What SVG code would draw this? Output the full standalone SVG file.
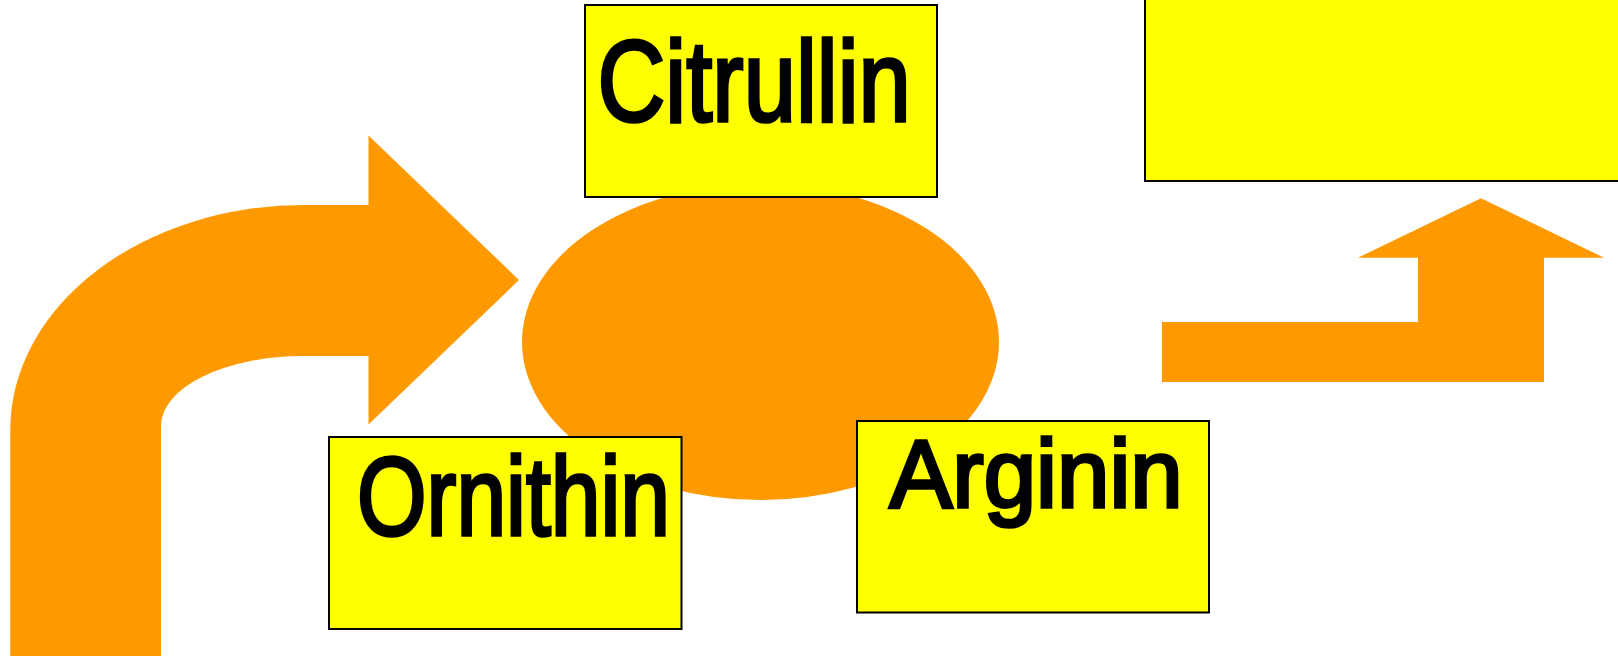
<svg xmlns="http://www.w3.org/2000/svg" width="1618" height="665" viewBox="0 0 1618 665">
<style>
.box{fill:#FFFF00;stroke:#000;stroke-width:2}
.arrow{fill:#FF9900;stroke:none}
.lbl{font-family:"Liberation Sans",Arial,sans-serif;fill:#000;stroke:#000;stroke-width:3.5;stroke-linejoin:miter}
</style>
<rect width="1618" height="665" fill="#fff"/>
<g id="connectors">
<path class="arrow" d="M10.3 656 L10.3 430 A293.7 225 0 0 1 304 205 L368.5 205 L368.5 135.5 L519 280 L368.5 424.5 L368.5 356 L304 356 A143 70 0 0 0 161 426 L161 656 Z"/>
<polygon class="arrow" points="1162,322 1418,322 1418,257.7 1358,257.7 1481,198.3 1604,257.7 1544,257.7 1544,382 1162,382"/>
</g>
<g id="cycle">
<ellipse class="arrow" cx="760.5" cy="342" rx="238.5" ry="158"/>
</g>
<g id="citrullin">
<rect class="box" x="585" y="5" width="352" height="192"/>
<text class="lbl" x="597.5" y="121" font-size="114.5" textLength="313.3" lengthAdjust="spacingAndGlyphs">Citrullin</text>
</g>
<g id="ornithin">
<rect class="box" x="329" y="437" width="352.5" height="192"/>
<text class="lbl" x="357.1" y="535" font-size="110.6" textLength="313" lengthAdjust="spacingAndGlyphs">Ornithin</text>
</g>
<g id="arginin">
<rect class="box" x="857" y="421" width="352" height="191.5"/>
<text class="lbl" x="889.4" y="506.6" font-size="96.5" textLength="293.4" lengthAdjust="spacingAndGlyphs">Arginin</text>
</g>
<g id="topright">
<rect class="box" x="1145" y="-5" width="500" height="186"/>
</g>
</svg>
